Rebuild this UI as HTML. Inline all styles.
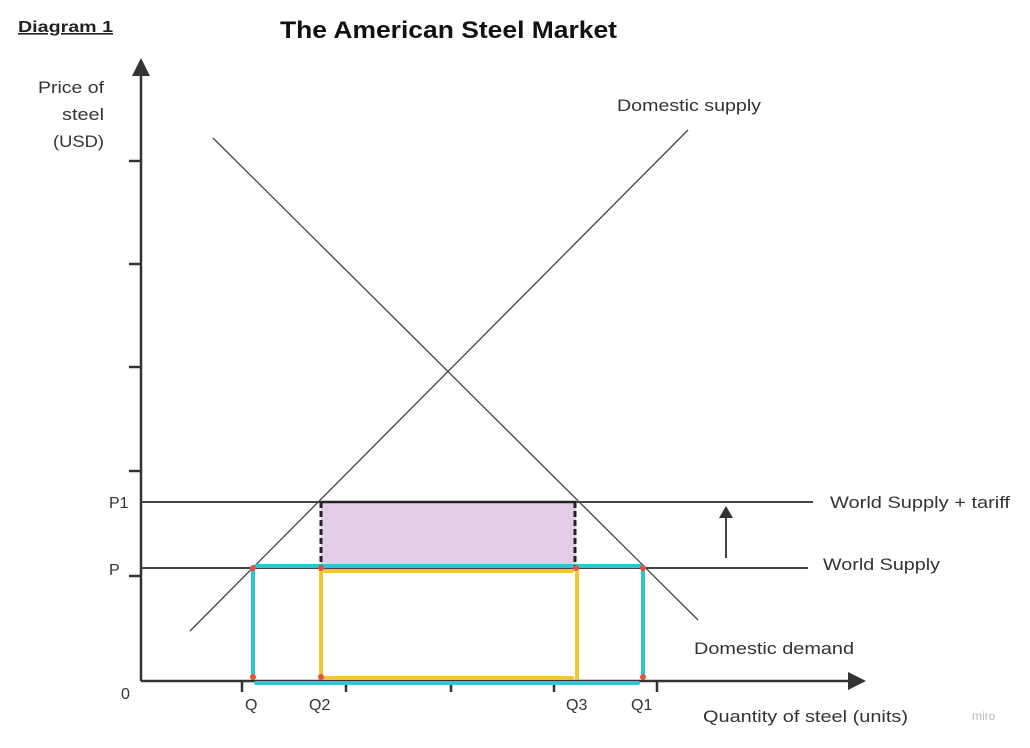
<!DOCTYPE html>
<html><head><style>
body{margin:0;background:#fff;}
svg text{font-family:"Liberation Sans",sans-serif;fill:#333;}
</style></head><body>
<svg width="1030" height="743" viewBox="0 0 1030 743" xmlns="http://www.w3.org/2000/svg">
<text x="18" y="32" font-size="16" font-weight="bold" text-decoration="underline" style="fill:#222" textLength="95" lengthAdjust="spacingAndGlyphs">Diagram 1</text>
<text x="280" y="38" font-size="24" font-weight="bold" style="fill:#111" textLength="337" lengthAdjust="spacingAndGlyphs">The American Steel Market</text>
<text x="104" y="93" font-size="17" text-anchor="end" textLength="66" lengthAdjust="spacingAndGlyphs">Price of</text>
<text x="104" y="120" font-size="17" text-anchor="end" textLength="42" lengthAdjust="spacingAndGlyphs">steel</text>
<text x="104" y="147" font-size="17" text-anchor="end" textLength="51" lengthAdjust="spacingAndGlyphs">(USD)</text>
<text x="617" y="111" font-size="17" textLength="144" lengthAdjust="spacingAndGlyphs">Domestic supply</text>
<text x="830" y="508" font-size="17" textLength="180" lengthAdjust="spacingAndGlyphs">World Supply + tariff</text>
<text x="823" y="570" font-size="17" textLength="117" lengthAdjust="spacingAndGlyphs">World Supply</text>
<text x="694" y="654" font-size="17" textLength="160" lengthAdjust="spacingAndGlyphs">Domestic demand</text>
<text x="703" y="722" font-size="17" textLength="205" lengthAdjust="spacingAndGlyphs">Quantity of steel (units)</text>
<text x="972" y="720" font-size="12" style="fill:#bbb">miro</text>
<text x="109" y="508" font-size="16">P1</text>
<text x="109" y="575" font-size="16">P</text>
<text x="121" y="699" font-size="16">0</text>
<text x="245" y="710" font-size="16">Q</text>
<text x="309" y="710" font-size="16">Q2</text>
<text x="566" y="710" font-size="16">Q3</text>
<text x="631" y="710" font-size="16">Q1</text>
<rect x="321" y="502" width="255" height="66" fill="#e4cde8"/>
<g stroke="#333" stroke-width="2.5" fill="none">
<line x1="141" y1="70" x2="141" y2="681"/>
<line x1="141" y1="681" x2="852" y2="681"/>
<line x1="129" y1="161" x2="141" y2="161"/><line x1="129" y1="264" x2="141" y2="264"/>
<line x1="129" y1="367" x2="141" y2="367"/><line x1="129" y1="471" x2="141" y2="471"/>
<line x1="129" y1="576" x2="141" y2="576"/>
<line x1="242" y1="681" x2="242" y2="692"/><line x1="346" y1="681" x2="346" y2="692"/>
<line x1="451" y1="681" x2="451" y2="692"/><line x1="554" y1="681" x2="554" y2="692"/>
<line x1="657" y1="681" x2="657" y2="692"/>
</g>
<polygon points="141,58 132,76 150,76" fill="#333"/>
<polygon points="866,681 848,672 848,690" fill="#333"/>
<g stroke="#444" stroke-width="1.3">
<line x1="190" y1="631" x2="688" y2="130"/>
<line x1="213" y1="138" x2="698" y2="620"/>
</g>
<g stroke="#444" stroke-width="2">
<line x1="141" y1="502" x2="813" y2="502"/>
<line x1="141" y1="568" x2="808" y2="568"/>
<line x1="726" y1="558" x2="726" y2="512"/>
</g>
<polygon points="726,506 719,518 733,518" fill="#333"/>
<g stroke="#2ec4d0" stroke-width="4" stroke-linecap="round">
<line x1="256" y1="566" x2="640" y2="566"/>
<line x1="256" y1="683" x2="638" y2="683"/>
<line x1="253" y1="570" x2="253" y2="678"/>
<line x1="643" y1="570" x2="643" y2="678"/>
</g>
<g stroke="#f2c72a" stroke-width="4" stroke-linecap="round">
<line x1="325" y1="571" x2="572" y2="571"/>
<line x1="325" y1="678" x2="572" y2="678"/>
<line x1="321" y1="571" x2="321" y2="678"/>
<line x1="577" y1="571" x2="577" y2="678"/>
</g>
<line x1="321" y1="502" x2="576" y2="502" stroke="#222" stroke-width="2.5"/>
<line x1="321" y1="502" x2="321" y2="566" stroke="#222" stroke-width="3" stroke-dasharray="6,3"/>
<line x1="575" y1="502" x2="575" y2="566" stroke="#222" stroke-width="3" stroke-dasharray="6,3"/>
<g fill="#e8503a">
<circle cx="253" cy="568" r="3"/><circle cx="321" cy="568" r="3"/>
<circle cx="576" cy="568" r="3"/><circle cx="643" cy="568" r="3"/>
<circle cx="253" cy="677" r="3"/><circle cx="321" cy="677" r="3"/>
<circle cx="643" cy="677" r="3"/>
</g>
</svg>
</body></html>
